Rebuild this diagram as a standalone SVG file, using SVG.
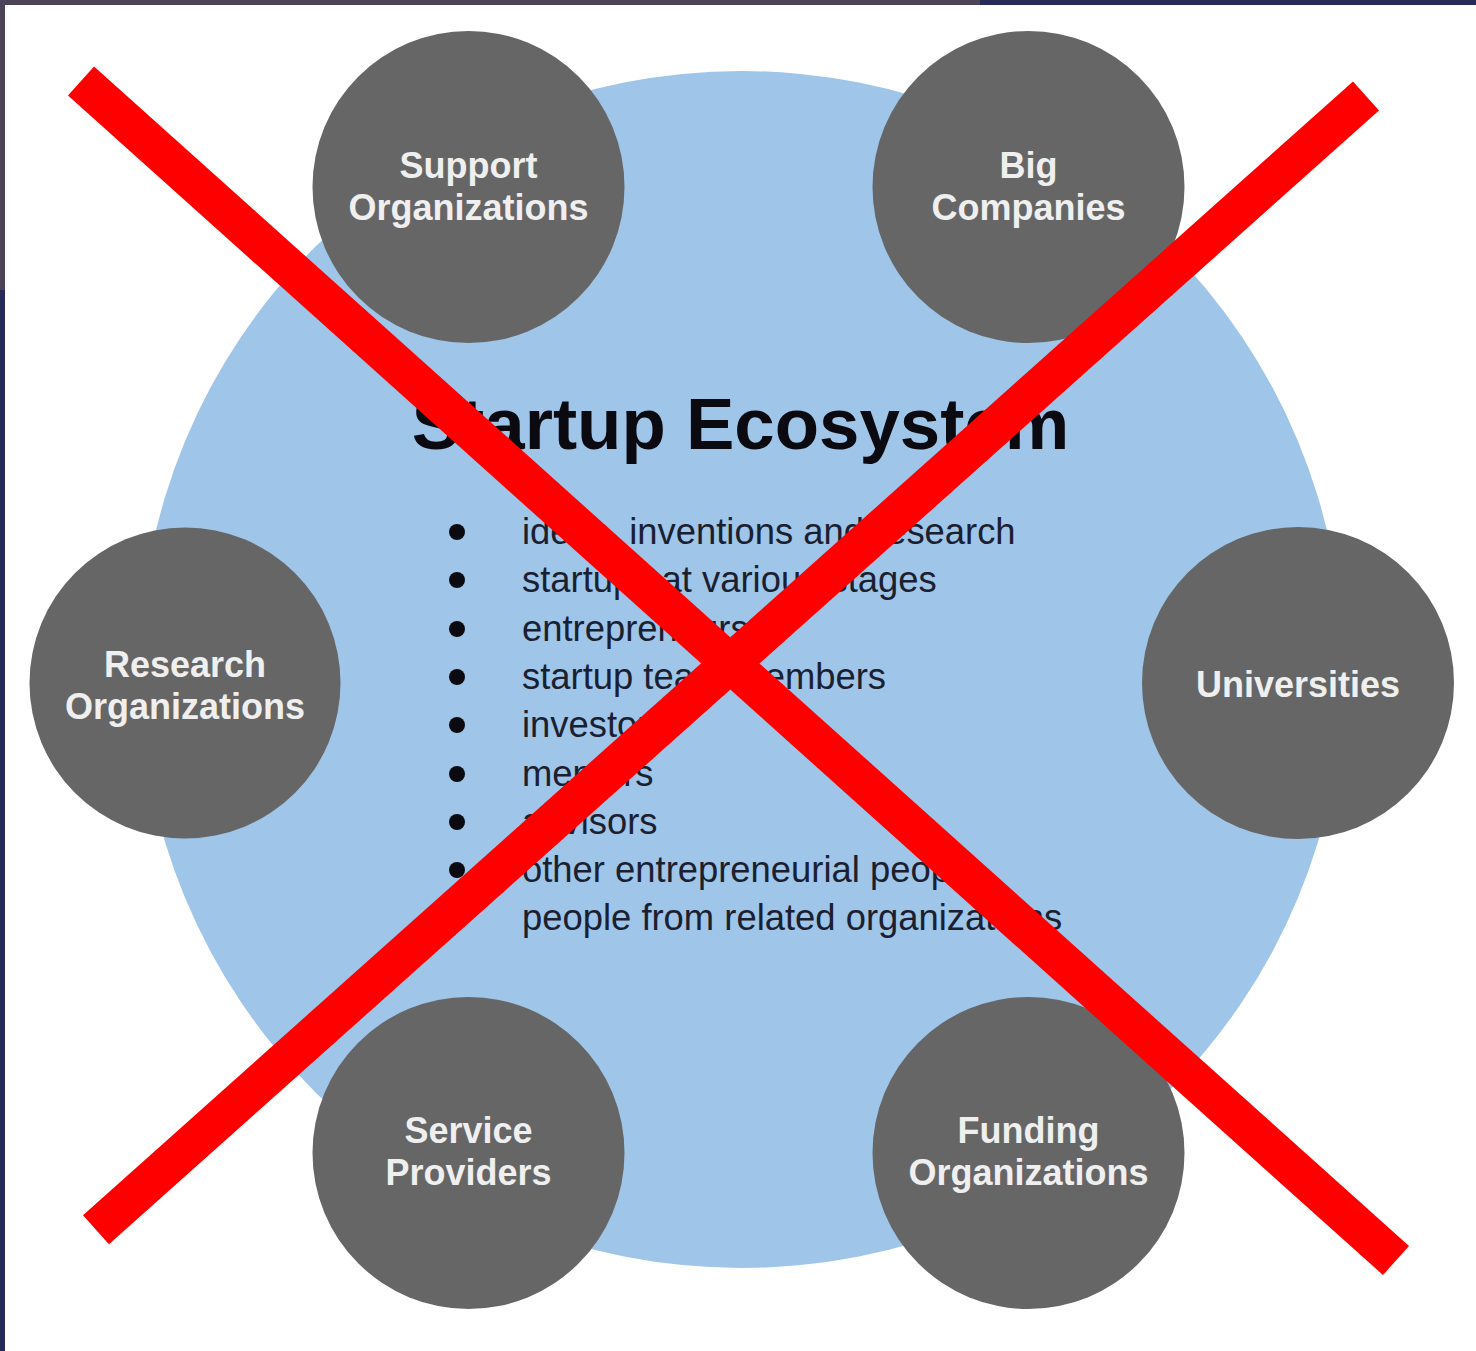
<svg xmlns="http://www.w3.org/2000/svg" width="1476" height="1351" viewBox="0 0 1476 1351">
<style>
.node circle{fill:#666666}
.lbl{font-family:"Liberation Sans",Arial,sans-serif;font-weight:bold;font-size:36px;fill:#efefef;text-anchor:middle}
.item{font-family:"Liberation Sans",Arial,sans-serif;font-size:36.4px;fill:#1a2030}
.title{font-family:"Liberation Sans",Arial,sans-serif;font-weight:bold;font-size:72.6px;fill:#0a0a10;text-anchor:middle}
.dot{fill:#0a0a10}
.cross line{stroke:#ff0000;stroke-width:39;stroke-linecap:butt}
</style>
<rect width="1476" height="1351" fill="#ffffff"/>
<rect x="0" y="0" width="980" height="5" fill="#4c4357"/>
<rect x="980" y="0" width="496" height="5" fill="#272a58"/>
<rect x="0" y="0" width="5" height="290" fill="#4c4357"/>
<rect x="0" y="290" width="5" height="1061" fill="#272a58"/>
<g id="ecosystem">
<ellipse cx="741.5" cy="669.5" rx="602" ry="598.5" fill="#9fc5e8"/>
<text class="title" x="740.5" y="449">Startup Ecosystem</text>
<circle class="dot" cx="457" cy="532" r="8"/>
<circle class="dot" cx="457" cy="580" r="8"/>
<circle class="dot" cx="457" cy="629" r="8"/>
<circle class="dot" cx="457" cy="677" r="8"/>
<circle class="dot" cx="457" cy="725" r="8"/>
<circle class="dot" cx="457" cy="774" r="8"/>
<circle class="dot" cx="457" cy="822" r="8"/>
<circle class="dot" cx="457" cy="870" r="8"/>
<text class="item" x="522" y="544">ideas, inventions and research</text>
<text class="item" x="522" y="592">startups at various stages</text>
<text class="item" x="522" y="641">entrepreneurs</text>
<text class="item" x="522" y="689">startup team members</text>
<text class="item" x="522" y="737">investors</text>
<text class="item" x="522" y="786">mentors</text>
<text class="item" x="522" y="834">advisors</text>
<text class="item" x="522" y="882">other entrepreneurial people</text>
<text class="item" x="522" y="930">people from related organizations</text>
</g>
<g id="support" class="node">
<circle cx="468.5" cy="187" r="156"/>
<text class="lbl" x="468.5" y="178">Support</text>
<text class="lbl" x="468.5" y="220">Organizations</text>
</g>
<g id="big" class="node">
<circle cx="1028.5" cy="187" r="156"/>
<text class="lbl" x="1028.5" y="178">Big</text>
<text class="lbl" x="1028.5" y="220">Companies</text>
</g>
<g id="research" class="node">
<circle cx="185" cy="683" r="155.5"/>
<text class="lbl" x="185" y="677">Research</text>
<text class="lbl" x="185" y="719">Organizations</text>
</g>
<g id="universities" class="node">
<circle cx="1298" cy="683" r="156"/>
<text class="lbl" x="1298" y="697">Universities</text>
</g>
<g id="service" class="node">
<circle cx="468.5" cy="1153" r="156"/>
<text class="lbl" x="468.5" y="1143">Service</text>
<text class="lbl" x="468.5" y="1185">Providers</text>
</g>
<g id="funding" class="node">
<circle cx="1028.5" cy="1153" r="156"/>
<text class="lbl" x="1028.5" y="1143">Funding</text>
<text class="lbl" x="1028.5" y="1185">Organizations</text>
</g>
<g id="connectors" class="cross">
<line x1="81" y1="81" x2="1396" y2="1260.5"/>
<line x1="1366" y1="96" x2="96" y2="1229.7"/>
</g>
</svg>
